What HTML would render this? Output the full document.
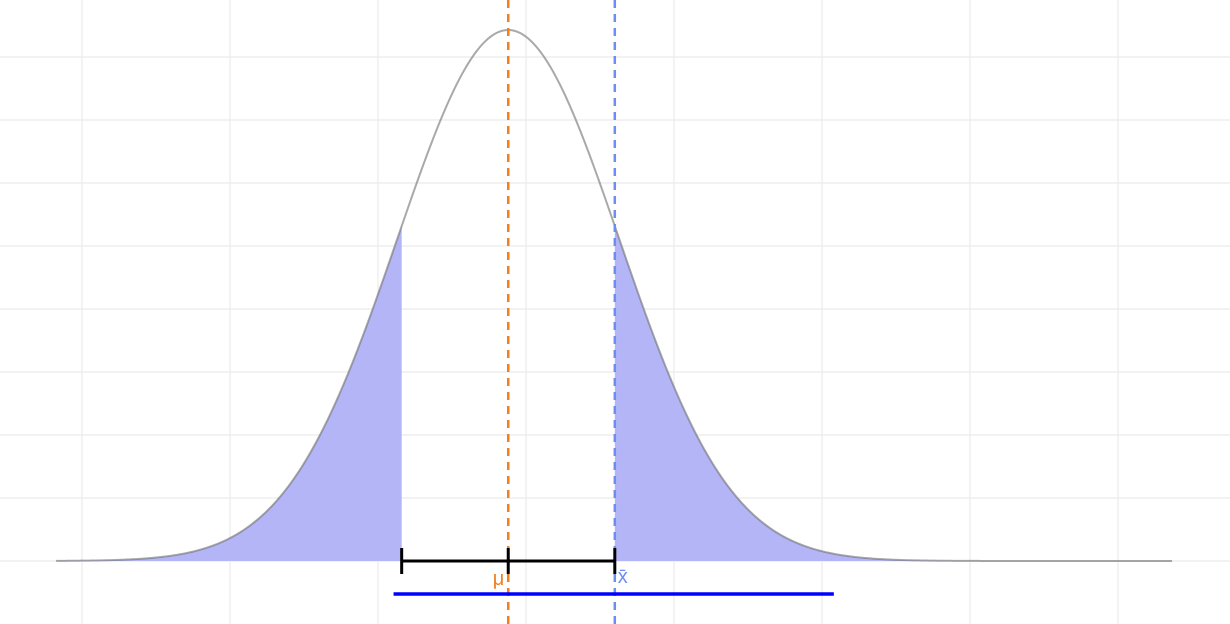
<!DOCTYPE html>
<html><head><meta charset="utf-8"><style>
html,body{margin:0;padding:0;background:#fff;}
svg{display:block;font-family:"Liberation Sans",sans-serif;}
</style></head><body>
<svg id="chart" width="1230" height="624" viewBox="0 0 1230 624"></svg>
<script>
const gridX = [40,60,80,100,120,140,160,180];
const gridY = [0,1,2,3,4,5,6,7,8];
const mu = [97.6];
const sd = [15];
const xbar = [112];
const curveRange = [36.5,187.3];
const blueSegment = [82.1,141.6];
const NS="http://www.w3.org/2000/svg";
const svg=document.getElementById('chart');
function X(v){return 82+(v-40)*7.4;}
const peak=1/(sd[0]*Math.sqrt(2*Math.PI));
function Y(d){return 561-d/peak*531;}
function dens(v){return Math.exp(-0.5*Math.pow((v-mu[0])/sd[0],2))/(sd[0]*Math.sqrt(2*Math.PI));}
function mk(t,a){const e=document.createElementNS(NS,t);for(const k in a)e.setAttribute(k,a[k]);svg.appendChild(e);return e;}
gridX.forEach(g=>{const l=mk('line',{x1:X(g),x2:X(g),y1:0,y2:624,stroke:'#ebebeb','stroke-width':1.2});

});
gridY.forEach(k=>{const y=561-63*k;const l=mk('line',{x1:0,x2:1230,y1:y,y2:y,stroke:'#ebebeb','stroke-width':1.2});

});
const lo=mu[0]-(xbar[0]-mu[0]);
function area(a,b){let p='M'+X(a)+','+Y(0);for(let i=0;i<=200;i++){const v=a+(b-a)*i/200;p+=' L'+X(v)+','+Y(dens(v));}p+=' L'+X(b)+','+Y(0)+'Z';return p;}
const f1=mk('path',{d:area(curveRange[0],lo),fill:'#b3b5f7'});


const f2=mk('path',{d:area(xbar[0],curveRange[1]),fill:'#b3b5f7'});


let p='';for(let i=0;i<=600;i++){const v=curveRange[0]+(curveRange[1]-curveRange[0])*i/600;p+=(i?' L':'M')+X(v)+','+Y(dens(v));}
const c=mk('path',{d:p,fill:'none',stroke:'#707070','stroke-opacity':0.6,'stroke-width':2});


const d1=mk('line',{x1:X(mu[0]),x2:X(mu[0]),y1:0,y2:624,stroke:'#f07f1e','stroke-width':2.5,'stroke-dasharray':'8,6'});


const d2=mk('line',{x1:X(xbar[0]),x2:X(xbar[0]),y1:0,y2:624,stroke:'#6b8ef0','stroke-width':2.5,'stroke-dasharray':'8,6'});


const eb=mk('line',{x1:X(lo),x2:X(xbar[0]),y1:561,y2:561,stroke:'#000','stroke-width':3});


[lo,mu[0],xbar[0]].forEach(v=>{const t=mk('line',{x1:X(v),x2:X(v),y1:548,y2:574,stroke:'#000','stroke-width':3});

});
const bl=mk('line',{x1:X(blueSegment[0]),x2:X(blueSegment[1]),y1:594,y2:594,stroke:'#0000ff','stroke-width':3.5});


const t1=mk('text',{x:X(mu[0])-4,y:585,'text-anchor':'end',fill:'#f07f1e','font-size':20});t1.textContent='μ';


const t2=mk('text',{x:X(xbar[0])+3,y:583,fill:'#6b8ef0','font-size':20});t2.textContent='x̄';


</script>
</body></html>
